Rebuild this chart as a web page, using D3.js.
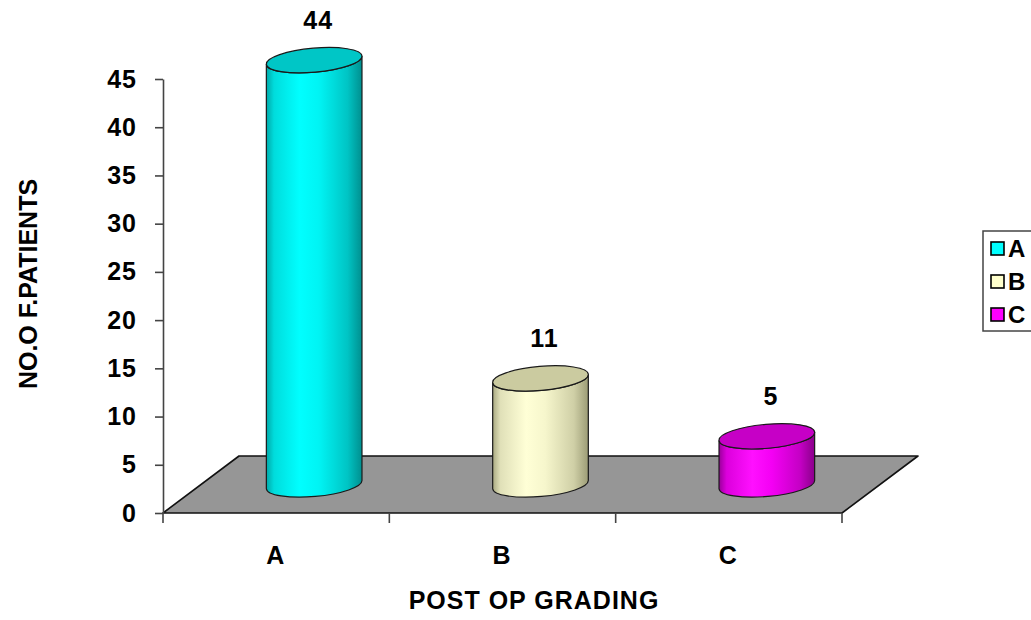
<!DOCTYPE html>
<html>
<head>
<meta charset="utf-8">
<script src="https://cdn.jsdelivr.net/npm/d3@7"></script>
<style>
  body { margin: 0; background: #fff; }
  svg { display: block; font-family: Arial, "Liberation Sans", sans-serif; font-weight: bold; }
</style>
</head>
<body>
<svg id="chart" width="1031" height="620"></svg>
<script>
// data
const categories = ['A', 'B', 'C'];
const values = [44, 11, 5];
const yTicks = [0, 5, 10, 15, 20, 25, 30, 35, 40, 45];
const bodyColors = [
  ['#00a8a8', '#00dcdc', '#00ffff', '#00f4f4', '#00c4c4', '#008f8f'],
  ['#a9a982', '#e0e0b8', '#ffffd6', '#f6f6cc', '#cfcfa6', '#9c9c76'],
  ['#9a009a', '#dc00dc', '#ff10ff', '#f400f4', '#c400c4', '#8a008a']
];
const topColors = ['#00c6c6', '#cbcba0', '#c600c6'];
const legendColors = ['#00ffff', '#ffffcc', '#ff00ff'];

const svg = d3.select('#chart');

// front plane of the chart
const x = d3.scaleBand().domain(categories).range([163, 842]);
const y = d3.scaleLinear().domain([0, 45]).range([513, 79]);
// depth of the floor (3D offset)
const depth = {dx: 76, dy: -57};
const rx = 48, ry = 12, tilt = -5;

const defs = svg.append('defs');
categories.forEach((c, i) => {
  const g = defs.append('linearGradient')
    .attr('id', 'grad' + i)
    .attr('x1', 0).attr('x2', 1).attr('y1', 0).attr('y2', 0);
  [0, 0.08, 0.35, 0.55, 0.85, 1].forEach((o, j) => {
    g.append('stop').attr('offset', o).attr('stop-color', bodyColors[i][j]);
  });
});

// floor
const x0 = x.range()[0], x1 = x.range()[1], yb = y(0);
svg.append('polygon')
  .attr('points', [
    [x0, yb], [x1, yb], [x1 + depth.dx, yb + depth.dy], [x0 + depth.dx, yb + depth.dy]
  ].map(p => p.join(',')).join(' '))
  .attr('fill', '#969696')
  .attr('stroke', '#111')
  .attr('stroke-width', 1.6)
  .attr('stroke-linejoin', 'round');

// y axis
const yAxis = d3.axisLeft(y)
  .tickValues(yTicks)
  .tickSizeInner(8)
  .tickSizeOuter(0)
  .tickPadding(18);

const yg = svg.append('g')
  .attr('class', 'axis yaxis')
  .attr('transform', 'translate(' + x0 + ',0)')
  .call(yAxis);
yg.select('.domain').attr('stroke', '#444').attr('stroke-width', 1.6);
yg.selectAll('.tick line').attr('stroke', '#444').attr('stroke-width', 1.6);
yg.selectAll('.tick text')
  .attr('fill', '#000')
  .style('font-size', '25px')
  .style('font-weight', 'bold')
  .style('letter-spacing', '1px')
  .style('font-family', 'Arial, "Liberation Sans", sans-serif');

// x ticks at the band edges, under the front edge of the floor
const edges = d3.range(categories.length + 1).map(i => x0 + i * x.step());
svg.append('g').selectAll('line')
  .data(edges)
  .enter().append('line')
  .attr('x1', d => d).attr('x2', d => d)
  .attr('y1', yb).attr('y2', yb + 10)
  .attr('stroke', '#444')
  .attr('stroke-width', 1.6);

// x labels
svg.append('g').selectAll('text')
  .data(categories)
  .enter().append('text')
  .attr('x', d => x(d) + x.bandwidth() / 2 - 1)
  .attr('y', 564)
  .attr('text-anchor', 'middle')
  .style('font-size', '25px')
  .text(d => d);

// cylinders, standing in the middle of the floor depth
const ca = Math.cos(tilt * Math.PI / 180), sa = Math.sin(tilt * Math.PI / 180);
function cylPath(cx, yTop, yBot) {
  const lx = cx - rx * ca, ly = -rx * sa;
  const rxx = cx + rx * ca, rly = rx * sa;
  return 'M' + lx + ',' + (yTop + ly) +
    'L' + lx + ',' + (yBot + ly) +
    'A' + rx + ',' + ry + ' ' + tilt + ' 0 0 ' + rxx + ',' + (yBot + rly) +
    'L' + rxx + ',' + (yTop + rly) +
    'A' + rx + ',' + ry + ' ' + tilt + ' 0 1 ' + lx + ',' + (yTop + ly) + 'Z';
}

const bars = svg.append('g').selectAll('g')
  .data(values)
  .enter().append('g');

bars.each(function (v, i) {
  const g = d3.select(this);
  const cx = x(categories[i]) + x.bandwidth() / 2 + depth.dx / 2;
  const yBot = y(0) + depth.dy / 2;
  const yTop = y(v) + depth.dy / 2;
  g.append('path')
    .attr('d', cylPath(cx, yTop, yBot))
    .attr('fill', 'url(#grad' + i + ')')
    .attr('stroke', '#1a1a1a')
    .attr('stroke-width', 1.2);
  g.append('ellipse')
    .attr('cx', cx).attr('cy', yTop)
    .attr('rx', rx).attr('ry', ry)
    .attr('transform', 'rotate(' + tilt + ' ' + cx + ' ' + yTop + ')')
    .attr('fill', topColors[i])
    .attr('stroke', '#1a1a1a')
    .attr('stroke-width', 1.2);
  g.append('text')
    .attr('x', cx + 4)
    .attr('y', yTop - 31)
    .attr('text-anchor', 'middle')
    .style('font-size', '25px')
    .style('letter-spacing', '1px')
    .text(v);
});

// axis titles
svg.append('text')
  .attr('x', 534)
  .attr('y', 609)
  .attr('text-anchor', 'middle')
  .style('font-size', '25px')
  .style('letter-spacing', '1px')
  .text('POST OP GRADING');

svg.append('text')
  .attr('transform', 'translate(37,284) rotate(-90)')
  .attr('text-anchor', 'middle')
  .style('font-size', '25px')
  .text('NO.O F.PATIENTS');

// legend
const legend = svg.append('g');
legend.append('rect')
  .attr('x', 983).attr('y', 231)
  .attr('width', 80).attr('height', 100)
  .attr('fill', '#fff')
  .attr('stroke', '#444')
  .attr('stroke-width', 1.5);
const li = legend.selectAll('g.item')
  .data(categories)
  .enter().append('g')
  .attr('class', 'item')
  .attr('transform', (d, i) => 'translate(991,' + (242 + i * 33) + ')');
li.append('rect')
  .attr('width', 13).attr('height', 13)
  .attr('fill', (d, i) => legendColors[i])
  .attr('stroke', '#000')
  .attr('stroke-width', 1.6);
li.append('text')
  .attr('x', 17)
  .attr('y', 15)
  .style('font-size', '24px')
  .text(d => d);
</script>
</body>
</html>
